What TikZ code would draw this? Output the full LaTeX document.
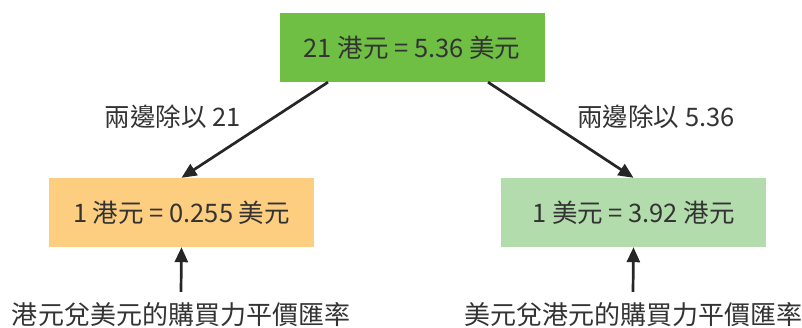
\documentclass[tikz,border=0pt]{standalone}
\usepackage{fontspec}
\setmainfont{Noto Sans CJK TC}
\usetikzlibrary{arrows.meta}
\definecolor{textgray}{HTML}{333333}
\definecolor{hkdgreen}{HTML}{6FBF44}
\definecolor{hkdorange}{HTML}{FDCD80}
\definecolor{usdgreen}{HTML}{B3DCAC}
\begin{document}
\begin{tikzpicture}[
    x=1pt, y=-1pt,
    % Box styles
    rate/.style={minimum width=265pt, minimum height=69pt, inner sep=0pt, text=textgray, font=\fontsize{25.5}{28}\selectfont},
    % Text styles
    step-note/.style={inner sep=0pt, text=textgray, font=\fontsize{25.5}{28}\selectfont},
    ppp-note/.style={inner sep=0pt, anchor=base, text=textgray, font=\fontsize{26}{30}\selectfont},
    % Arrow styles
    conv/.style={-{Triangle[length=15pt, width=13pt]}, line width=2.7pt, draw=black!85},
]
\useasboundingbox (0,0) rectangle (802,327);

% === STARTING EQUATION (top) ===
\node[rate, fill=hkdgreen] (start) at (412, 47.5) {21 港元 = 5.36 美元};

% === HKD PER USD (left) ===
\node[rate, fill=hkdorange] (hkd) at (181.5, 212.5) {1 港元 = 0.255 美元};
\draw[conv] ([xshift=-84pt]start.south) -- (hkd.north);
\node[step-note] (div21) at (173, 117) {兩邊除以 21};

% === USD PER HKD (right) ===
\node[rate, fill=usdgreen] (usd) at (633.5, 212.5) {1 美元 = 3.92 港元};
\draw[conv] ([xshift=76pt]start.south) -- (usd.north);
\node[step-note] (div536) at (656, 117) {兩邊除以 5.36};

% === PPP RATES (bottom) ===
\node[ppp-note] (hkdppp) at (181, 324) {港元兌美元的購買力平價匯率};
\draw[conv] ([yshift=10pt]hkdppp.north) -- (hkd.south);
\node[ppp-note] (usdppp) at (633, 324) {美元兌港元的購買力平價匯率};
\draw[conv] ([yshift=10pt]usdppp.north) -- (usd.south);

\end{tikzpicture}
\end{document}
